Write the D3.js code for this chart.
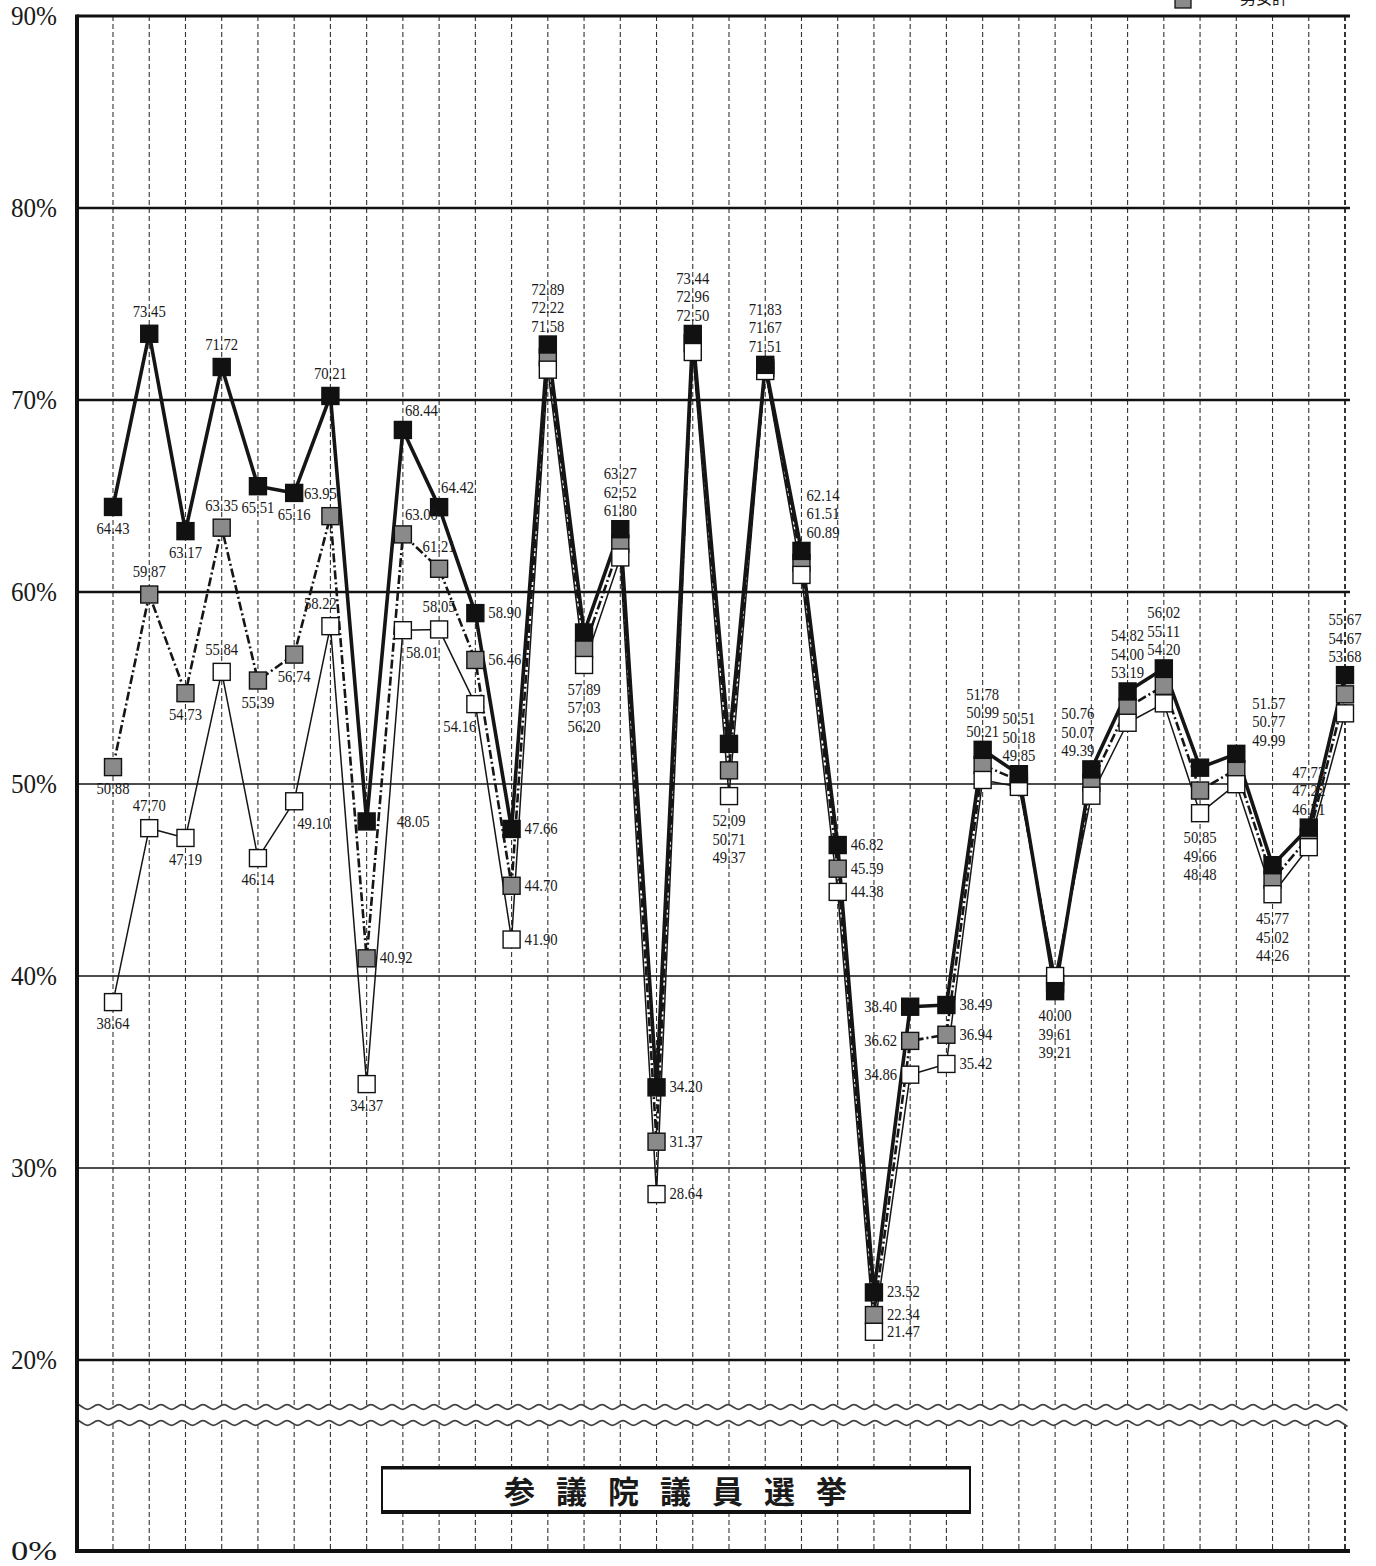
<!DOCTYPE html>
<html>
<head>
<meta charset="utf-8">
<script src="https://cdn.jsdelivr.net/npm/d3@7"></script>
<style>
body { margin: 0; background: #fff; }
text { font-family: "Liberation Serif", "DejaVu Serif", serif; fill: #1a1a1a; }
</style>
</head>
<body>
<svg id="chart" width="1376" height="1566"></svg>
<script>
// election number (35 rounds, no axis labels shown)
var elections = [1,2,3,4,5,6,7,8,9,10,11,12,13,14,15,16,17,18,19,20,21,22,23,24,25,26,27,28,29,30,31,32,33,34,35];

// turnout %, 男 (black), 男女計 (gray), 女 (white)
var male   = [64.43,73.45,63.17,71.72,65.51,65.16,70.21,48.05,68.44,64.42,58.90,47.66,72.89,57.89,63.27,34.20,73.44,52.09,71.83,62.14,46.82,23.52,38.40,38.49,51.78,50.51,39.21,50.76,54.82,56.02,50.85,51.57,45.77,47.73,55.67];
var total  = [50.88,59.87,54.73,63.35,55.39,56.74,63.95,40.92,63.00,61.21,56.46,44.70,72.22,57.03,62.52,31.37,72.96,50.71,71.67,61.51,45.59,22.34,36.62,36.94,50.99,50.18,39.61,50.07,54.00,55.11,49.66,50.77,45.02,47.22,54.67];
var female = [38.64,47.70,47.19,55.84,46.14,49.10,58.22,34.37,58.01,58.05,54.16,41.90,71.58,56.20,61.80,28.64,72.50,49.37,71.51,60.89,44.38,21.47,34.86,35.42,50.21,49.85,40.00,49.39,53.19,54.20,48.48,49.99,44.26,46.71,53.68];

var yTicks = [0,20,30,40,50,60,70,80,90];
var boldTicks = [20,60,70,80];
var title = "参議院議員選挙";

// where the value labels go (a=above, b=below, r=right ...)
var maleLab   = ["b","a","b","a","b","b","a","rr","ar","ar","r","r"];
var totalLab  = ["b","a","b","a","b","b","al","r","ar","a","r","r"];
var femaleLab = ["b","a","b","a","b","br","al","b","br","a","bl","r"];
var groupLab  = [null,null,null,null,null,null,null,null,null,null,null,null,
  "sa","sb","sa","ir","sa","sb","sa","sar","ir","ir","il","ir","sa","sa","sb","sal","sa","sa","sb","sarr","sb","sa","sa"];

var svg = d3.select("#chart");
var plotL = 77, plotR = 1350, plotT = 16, plotB = 1551;

var x = d3.scalePoint().domain(elections).range([113, 1345]);
var y = d3.scaleLinear().domain([0, 20, 90]).range([plotB, 1360, plotT]);

// vertical dashed grid
svg.append("g").selectAll("line")
  .data(elections)
  .enter().append("line")
  .attr("x1", function(d) { return x(d); })
  .attr("x2", function(d) { return x(d); })
  .attr("y1", plotT).attr("y2", plotB)
  .attr("stroke", "#333")
  .attr("stroke-width", function(d, i) { return i == elections.length - 1 ? 2 : 1.1; })
  .attr("stroke-dasharray", "5,3");

// horizontal grid
svg.append("g").selectAll("line")
  .data(yTicks.filter(function(d) { return d > 0 && d < 90; }))
  .enter().append("line")
  .attr("x1", plotL).attr("x2", plotR)
  .attr("y1", function(d) { return y(d); })
  .attr("y2", function(d) { return y(d); })
  .attr("stroke", "#111")
  .attr("stroke-width", function(d) { return boldTicks.indexOf(d) >= 0 ? 2.4 : 1.4; });

// axis break (two wavy lines)
var breakY = [1407, 1423];
svg.append("rect").attr("x", plotL).attr("y", breakY[0]).attr("width", plotR - plotL).attr("height", breakY[1] - breakY[0]).attr("fill", "#fff");
var wave = d3.line().curve(d3.curveBasis);
breakY.forEach(function(by) {
  var pts = d3.range(plotL, plotR + 1, 5.25).map(function(px, k) {
    return [px, by + (k % 4 == 0 ? -3.5 : k % 4 == 2 ? 3.5 : 0)];
  });
  svg.append("path").attr("d", wave(pts)).attr("fill", "none").attr("stroke", "#444").attr("stroke-width", 1.8);
});

// frame: left axis, top and bottom
svg.append("line").attr("x1", plotL).attr("x2", plotL).attr("y1", plotT - 1.5).attr("y2", plotB + 2).attr("stroke", "#111").attr("stroke-width", 4);
svg.append("line").attr("x1", plotL).attr("x2", plotR).attr("y1", plotT).attr("y2", plotT).attr("stroke", "#111").attr("stroke-width", 3);
svg.append("line").attr("x1", plotL).attr("x2", plotR).attr("y1", plotB).attr("y2", plotB).attr("stroke", "#111").attr("stroke-width", 4);

// y tick labels
var yAxis = d3.axisLeft(y).tickValues(yTicks).tickSize(0).tickPadding(20)
  .tickFormat(function(d) { return d + "%"; });
var ya = svg.append("g").attr("transform", "translate(" + plotL + ",0)").call(yAxis);
ya.select(".domain").remove();
ya.selectAll("text")
  .attr("font-size", 28)
  .attr("font-family", "Liberation Serif")
  .attr("fill", "#222")
  .attr("textLength", 46)
  .attr("lengthAdjust", "spacingAndGlyphs");

// title box
svg.append("rect").attr("x", 382).attr("y", 1467).attr("width", 588).attr("height", 46)
  .attr("fill", "#fff").attr("stroke", "#111").attr("stroke-width", 2);
svg.append("line").attr("x1", 381).attr("x2", 971).attr("y1", 1468).attr("y2", 1468).attr("stroke", "#111").attr("stroke-width", 3);
svg.append("line").attr("x1", 381).attr("x2", 971).attr("y1", 1512).attr("y2", 1512).attr("stroke", "#111").attr("stroke-width", 4);
svg.append("text").attr("x", 676).attr("y", 1503)
  .attr("text-anchor", "middle")
  .style("font-family", "'Noto Sans CJK JP'")
  .style("font-weight", "bold")
  .attr("font-size", 31)
  .attr("letter-spacing", 21)
  .attr("dx", 10)
  .text(title);

// legend (cut off at the top edge, as in the source scan)
svg.append("rect").attr("x", 1175).attr("y", -10).attr("width", 16).attr("height", 18)
  .attr("fill", "#8a8a8a").attr("stroke", "#111").attr("stroke-width", 1.3);
svg.append("text").attr("x", 1224).attr("y", 4).attr("font-size", 16)
  .style("font-family", "'Noto Sans CJK JP'").text("―男女計");

// lines
var series = [
  { key: "female", vals: female, fill: "#fff",    width: 1.5, dash: null },
  { key: "total",  vals: total,  fill: "#8a8a8a", width: 2.6, dash: "9,3,2,3" },
  { key: "male",   vals: male,   fill: "#111",    width: 3.6, dash: null }
];
var line = d3.line()
  .x(function(d, i) { return x(elections[i]); })
  .y(function(d) { return y(d); });

series.forEach(function(s) {
  svg.append("path")
    .attr("d", line(s.vals))
    .attr("fill", "none")
    .attr("stroke", "#151515")
    .attr("stroke-width", s.width)
    .attr("stroke-linejoin", "round")
    .attr("stroke-dasharray", s.dash);
});

// markers: gray first, then white, then black on top
var ms = 17;
[series[1], series[0], series[2]].forEach(function(s) {
  svg.append("g").selectAll("rect")
    .data(s.vals)
    .enter().append("rect")
    .attr("x", function(d, i) { return x(elections[i]) - ms / 2; })
    .attr("y", function(d) { return y(d) - ms / 2; })
    .attr("width", ms).attr("height", ms)
    .attr("fill", s.fill)
    .attr("stroke", "#111")
    .attr("stroke-width", 1.4);
});

// value labels
function place(code, cx, cy, v) {
  var o = { v: v, x: cx, y: cy + 5, a: "middle" };
  if (code == "a") { o.y = cy - 17; }
  else if (code == "al") { o.x = cx - 10; o.y = cy - 17; }
  else if (code == "b") { o.y = cy + 27; }
  else if (code == "r") { o.x = cx + 13; o.a = "start"; }
  else if (code == "rr") { o.x = cx + 30; o.y = cy + 6; o.a = "start"; }
  else if (code == "l") { o.x = cx - 13; o.a = "end"; }
  else if (code == "ar") { o.x = cx + 2; o.y = cy - 14; o.a = "start"; }
  else if (code == "br") { o.x = cx + 3; o.y = cy + 28; o.a = "start"; }
  else if (code == "bl") { o.x = cx + 1; o.y = cy + 28; o.a = "end"; }
  return o;
}

var labels = [];
var solo = [maleLab, totalLab, femaleLab];
elections.forEach(function(e, i) {
  var cx = x(e);
  var vals = [male[i], total[i], female[i]];
  var mode = groupLab[i];
  if (!mode) {
    vals.forEach(function(v, k) { labels.push(place(solo[k][i], cx, y(v), v)); });
    return;
  }
  if (mode == "ir" || mode == "il") {
    vals.forEach(function(v) { labels.push(place(mode == "ir" ? "r" : "l", cx, y(v), v)); });
    return;
  }
  var sorted = vals.slice().sort(d3.descending);
  var yHi = y(sorted[0]), yLo = y(sorted[2]);
  var step = 18.5;
  sorted.forEach(function(v, k) {
    var o = { v: v, x: cx, a: "middle" };
    if (mode == "sb") {
      o.y = yLo + 30 + k * step;
    } else {
      o.y = yHi - 13 - (2 - k) * step;
      if (mode == "sal") { o.x = cx + 3; o.a = "end"; }
      if (mode == "sar") { o.x = cx + 5; o.a = "start"; }
      if (mode == "sarr") { o.x = cx + 16; o.y = yHi - 8 - (2 - k) * step; o.a = "start"; }
    }
    labels.push(o);
  });
});

svg.append("g").selectAll("text")
  .data(labels)
  .enter().append("text")
  .attr("x", function(d) { return d.x; })
  .attr("y", function(d) { return d.y; })
  .attr("text-anchor", function(d) { return d.a; })
  .attr("font-size", 17)
  .attr("textLength", 33)
  .attr("lengthAdjust", "spacingAndGlyphs")
  .text(function(d) { return d3.format(".2f")(d.v); });
</script>
</body>
</html>
